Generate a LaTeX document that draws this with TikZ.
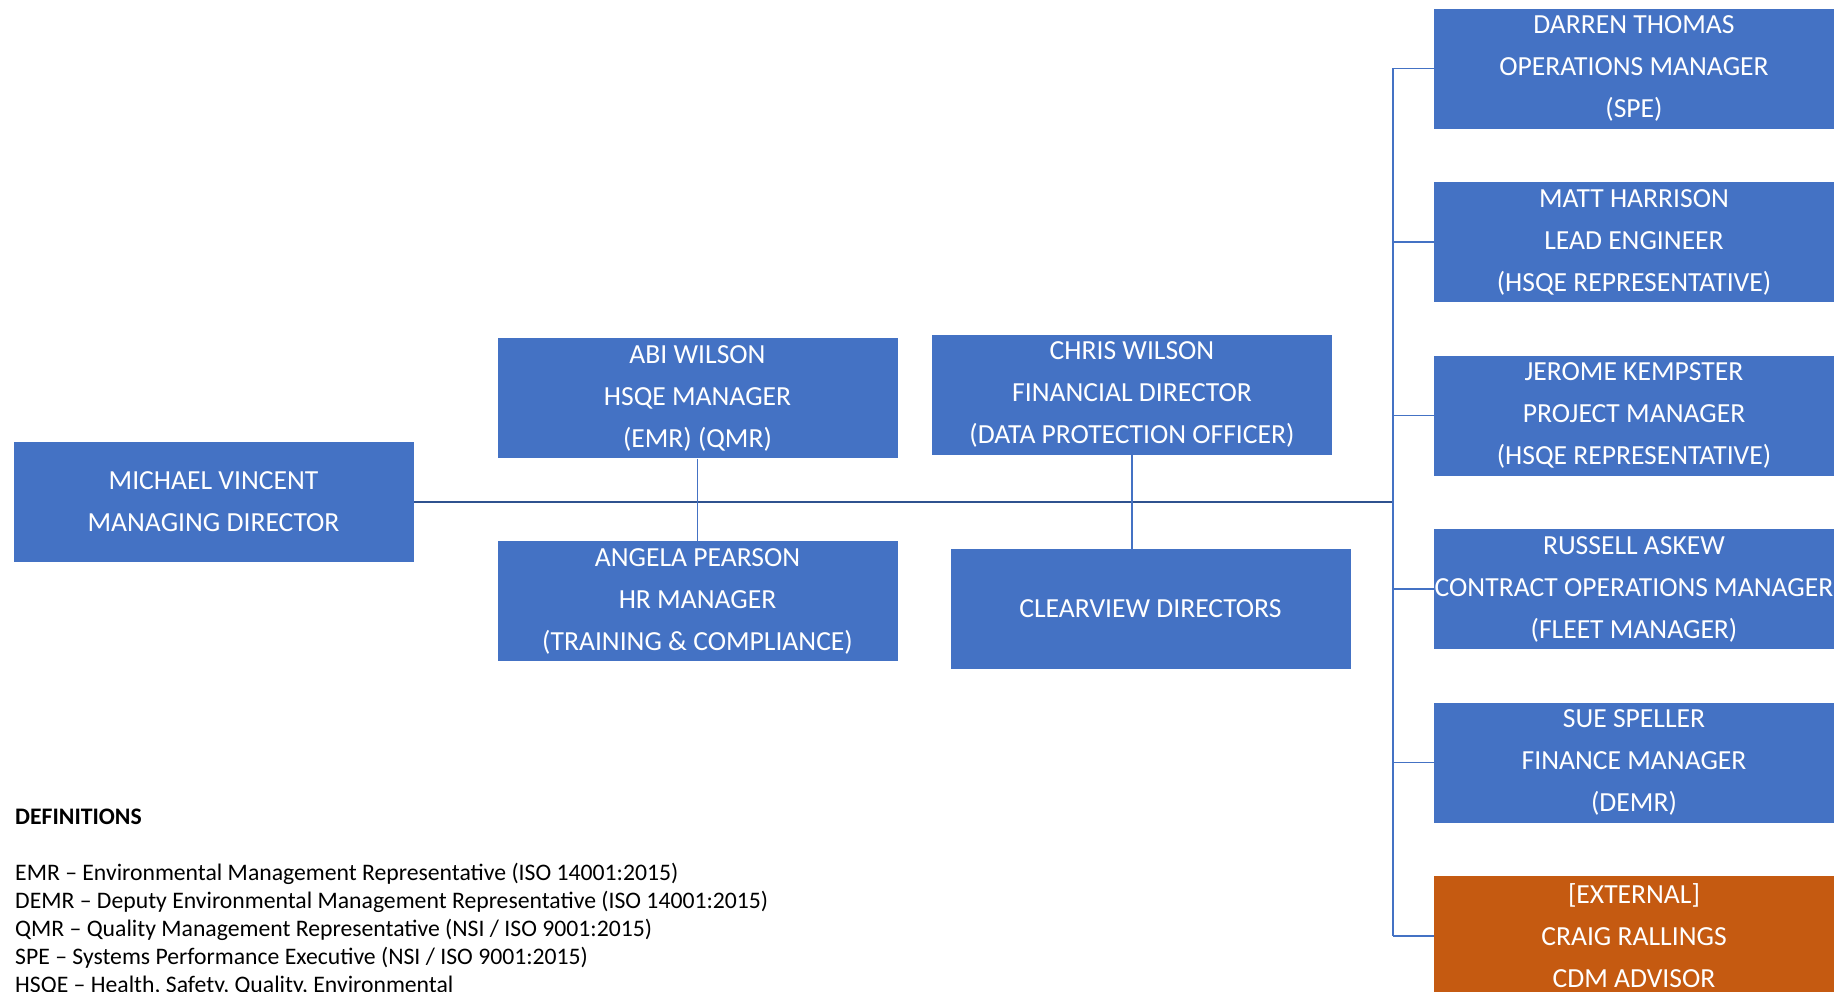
\documentclass[tikz,border=0pt]{standalone}
\usepackage{fontspec}
\setmainfont{Carlito}
\usetikzlibrary{positioning}
\definecolor{boxblue}{HTML}{4472C4}
\definecolor{boxorange}{HTML}{C55A11}
\definecolor{busblue}{HTML}{2F528F}
\tikzset{
  role/.style={fill=boxblue, draw=white, line width=0.8pt, text=white,
    minimum width=401pt, minimum height=121pt, inner sep=0pt, outer sep=0pt,
    align=center, font=\fontsize{27.6}{42}\selectfont},
  external/.style={role, fill=boxorange},
  link/.style={draw=boxblue, line width=1.5pt},
  busline/.style={draw=busblue, line width=2.5pt}
}
\begin{document}
\begin{tikzpicture}[x=1pt, y=-1pt, node distance=52.5pt]
  \clip (0,0) rectangle (1845,992);
  \fill[white] (0,0) rectangle (1845,992);
  % middle part
  \node[role] (md) at (213.5,502) {MICHAEL VINCENT\\MANAGING DIRECTOR};
  \node[role] (hsqe) at (697.5,398) {ABI WILSON\\HSQE MANAGER\\(EMR) (QMR)};
  \node[role] (hr) at (697.5,601) {ANGELA PEARSON\\HR MANAGER\\(TRAINING \& COMPLIANCE)};
  \node[role] (fd) at (1132,394.5) {CHRIS WILSON\\FINANCIAL DIRECTOR\\(DATA PROTECTION OFFICER)};
  \node[role] (cv) at (1150.5,609) {CLEARVIEW DIRECTORS};
  % right column
  \node[role] (ops) at (1634,68.5) {DARREN THOMAS\\OPERATIONS MANAGER\\(SPE)};
  \node[role, below=of ops] (lead) {MATT HARRISON\\LEAD ENGINEER\\(HSQE REPRESENTATIVE)};
  \node[role, below=of lead] (pm) {JEROME KEMPSTER\\PROJECT MANAGER\\(HSQE REPRESENTATIVE)};
  \node[role, below=of pm] (fleet) {RUSSELL ASKEW\\CONTRACT OPERATIONS MANAGER\\(FLEET MANAGER)};
  \node[role, below=of fleet] (fin) {SUE SPELLER\\FINANCE MANAGER\\(DEMR)};
  \node[external, below=of fin] (cdm) {[EXTERNAL]\\CRAIG RALLINGS\\CDM ADVISOR};
  \coordinate (bus) at (1393,0);
  % connectors
  \draw[busline] (md.east) -- (md.east -| bus);
  \draw[link] (hsqe.south) -- (hr.north);
  \draw[link] (fd.south) -- (fd.south |- cv.north);
  \draw[link] (ops.west -| bus) -- (cdm.west -| bus);
  \foreach \r in {ops,lead,pm,fleet,fin,cdm}
    \draw[link] (\r.west) -- (\r.west -| bus);
  % definitions (anchored on the baseline of the last line)
  \node[anchor=base west, inner sep=0pt, align=left,
    font=\fontsize{23.7}{28}\selectfont] (defs) at (15,992)
    {\textbf{DEFINITIONS}\\[28pt]
     EMR – Environmental Management Representative (ISO 14001:2015)\\
     DEMR – Deputy Environmental Management Representative (ISO 14001:2015)\\
     QMR – Quality Management Representative (NSI / ISO 9001:2015)\\
     SPE – Systems Performance Executive (NSI / ISO 9001:2015)\\
     HSQE – Health, Safety, Quality, Environmental};
\end{tikzpicture}
\end{document}
